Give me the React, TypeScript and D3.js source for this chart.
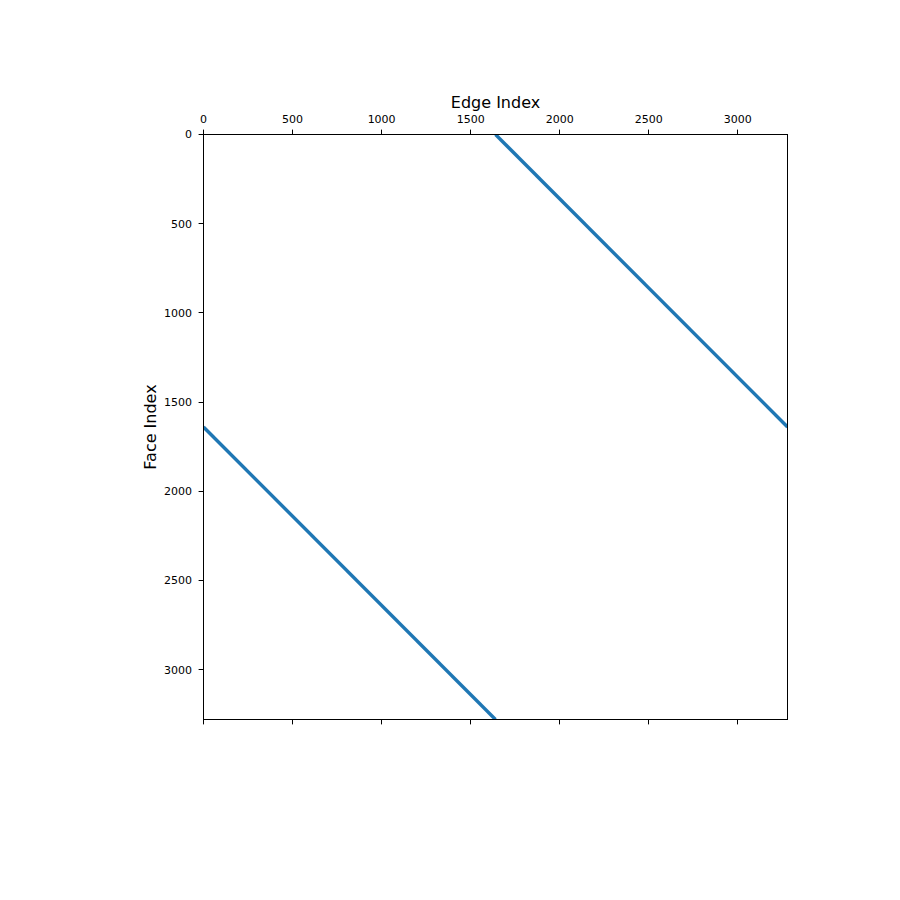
import React from "react";
import * as d3 from "d3";

const matrixSize = 3280;
const xTicks = [0, 500, 1000, 1500, 2000, 2500, 3000];
const yTicks = [0, 500, 1000, 1500, 2000, 2500, 3000];
// Nonzero diagonal bands: rows rowStart..rowEnd map to columns colStart + (row - rowStart)
const bandRowStart = [0, 1640];
const bandRowEnd = [1640, 3280];
const bandColStart = [1640, 0];

export default function App() {
  const W = 900, H = 900;
  const left = 203.5, right = 787.5, top = 134.5, bottom = 719.5;
  const x = d3.scaleLinear().domain([-0.5, matrixSize - 0.5]).range([left, right]);
  const y = d3.scaleLinear().domain([-0.5, matrixSize - 0.5]).range([top, bottom]);
  const font = "DejaVu Sans, sans-serif";
  const color = "#1f77b4";
  const px = (v: number) => Math.floor(v) + 0.5;
  return (
    <svg width={W} height={H} style={{ position: "absolute", left: 0, top: 0, background: "#fff" }}>
      <rect x={0} y={0} width={W} height={H} fill="#fff" />
      <defs>
        <clipPath id="clip">
          <rect x={left} y={top} width={right - left} height={bottom - top} />
        </clipPath>
      </defs>
      <g clipPath="url(#clip)">
        {bandRowStart.map((rs, i) => {
          const re = bandRowEnd[i];
          const cs = bandColStart[i];
          const ce = cs + (re - rs);
          return (
            <line key={i} x1={x(cs - 0.5)} y1={y(rs - 0.5)} x2={x(ce - 0.5)} y2={y(re - 0.5)}
              stroke={color} strokeWidth={3.4} />
          );
        })}
      </g>
      <rect x={left} y={top} width={right - left} height={bottom - top} fill="none" stroke="#000" strokeWidth={1} />
      {xTicks.map((t) => (
        <g key={"x" + t}>
          <line x1={px(x(t))} x2={px(x(t))} y1={top} y2={top - 4.9} stroke="#000" strokeWidth={1} />
          <line x1={px(x(t))} x2={px(x(t))} y1={bottom} y2={bottom + 4.9} stroke="#000" strokeWidth={1} />
          <text x={x(t)} y={123} textAnchor="middle" fontFamily={font} fontSize={11} fill="#000">{t}</text>
        </g>
      ))}
      {yTicks.map((t) => (
        <g key={"y" + t}>
          <line x1={left} x2={left - 4.9} y1={px(y(t))} y2={px(y(t))} stroke="#000" strokeWidth={1} />
          <text x={192} y={y(t)} dy="0.35em" textAnchor="end" fontFamily={font} fontSize={11} fill="#000">{t}</text>
        </g>
      ))}
      <text x={(left + right) / 2} y={108} textAnchor="middle" fontFamily={font} fontSize={16} fill="#000">Edge Index</text>
      <text transform={`translate(156,${(top + bottom) / 2}) rotate(-90)`} textAnchor="middle" fontFamily={font} fontSize={16} fill="#000">Face Index</text>
    </svg>
  );
}
